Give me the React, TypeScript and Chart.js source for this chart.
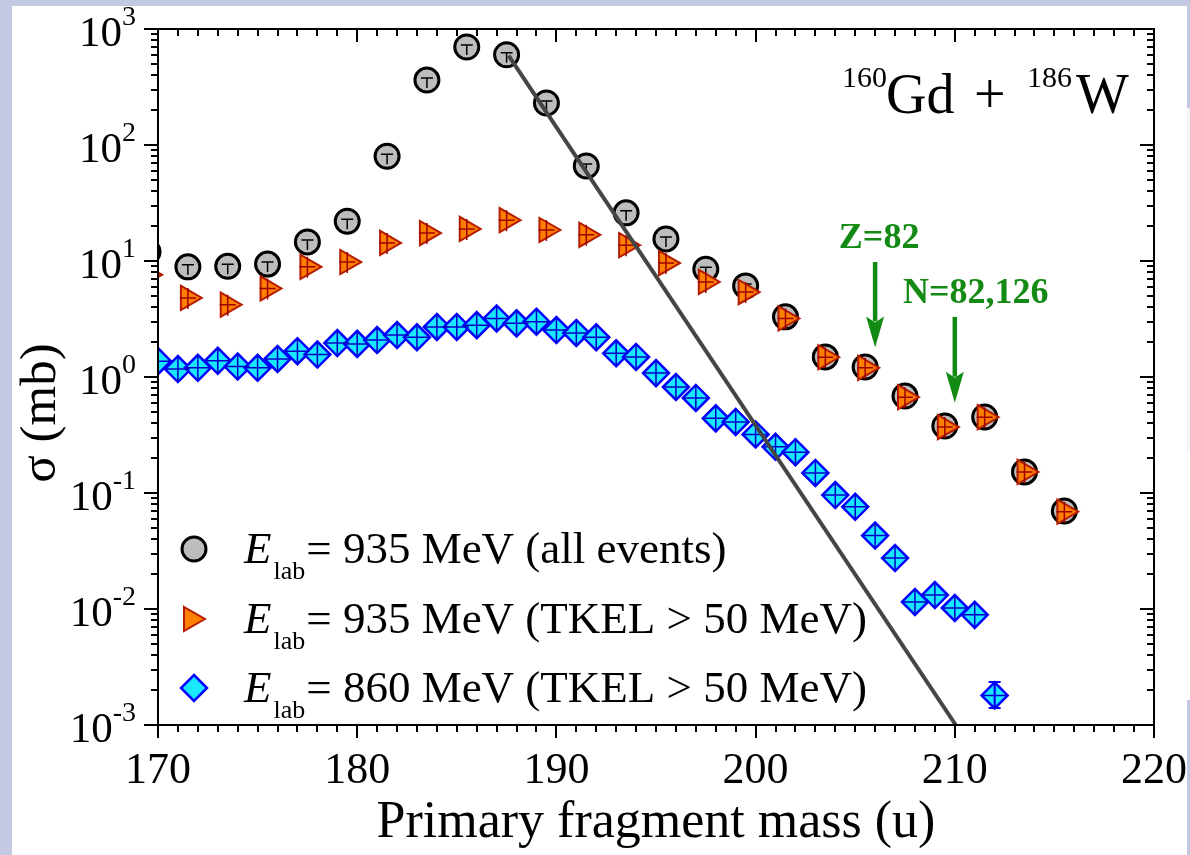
import React, { useEffect, useRef } from 'react';
import { Chart, registerables } from 'chart.js';

Chart.register(...registerables);

// ---- data ----
const massAll = [169.5, 171.5, 173.5, 175.5, 177.5, 179.5, 181.5, 183.5, 185.5, 187.5, 189.5, 191.5, 193.5, 195.5, 197.5, 199.5, 201.5, 203.5, 205.5, 207.5, 209.5, 211.5, 213.5, 215.5];
const sigmaAll = [12, 8.9, 9.0, 9.4, 14.6, 22, 80, 363, 700, 600, 230, 66, 26, 15.5, 8.5, 6.1, 3.3, 1.49, 1.22, 0.685, 0.378, 0.452, 0.152, 0.070];

const massTkel935 = [169.5, 171.5, 173.5, 175.5, 177.5, 179.5, 181.5, 183.5, 185.5, 187.5, 189.5, 191.5, 193.5, 195.5, 197.5, 199.5, 201.5, 203.5, 205.5, 207.5, 209.5, 211.5, 213.5, 215.5];
const sigmaTkel935 = [7.6, 4.8, 4.2, 5.8, 8.9, 9.8, 14.3, 17.4, 18.9, 22.5, 18.5, 16.8, 13.7, 9.6, 6.6, 5.4, 3.2, 1.48, 1.2, 0.67, 0.37, 0.45, 0.152, 0.069];

const massTkel860 = [170, 171, 172, 173, 174, 175, 176, 177, 178, 179, 180, 181, 182, 183, 184, 185, 186, 187, 188, 189, 190, 191, 192, 193, 194, 195, 196, 197, 198, 199, 200, 201, 202, 203, 204, 205, 206, 207, 208, 209, 210, 211, 212];
const sigmaTkel860 = [1.37, 1.17, 1.2, 1.38, 1.23, 1.2, 1.43, 1.67, 1.56, 1.96, 1.93, 2.08, 2.3, 2.2, 2.7, 2.7, 2.8, 3.2, 2.9, 3.0, 2.54, 2.4, 2.2, 1.6, 1.49, 1.08, 0.82, 0.66, 0.44, 0.41, 0.32, 0.25, 0.225, 0.149, 0.096, 0.076, 0.043, 0.0275, 0.0115, 0.0132, 0.0102, 0.0089, 0.0018];

const errMass860 = [212];
const errLow860 = [0.0014];
const errHigh860 = [0.00235];

const fitMass = [187.6, 210.05];
const fitSigma = [590, 0.001];

const xTicks = [170, 180, 190, 200, 210, 220];
const yDecades = [-3, -2, -1, 0, 1, 2, 3];

const legendLabels = ['= 935 MeV (all events)', '= 935 MeV (TKEL > 50 MeV)', '= 860 MeV (TKEL > 50 MeV)'];

const arrowMass = [206, 210];
const arrowTop = [9.8, 3.3];
const arrowTip = [1.8, 0.6];
const arrowLabels = ['Z=82', 'N=82,126'];
const arrowLabelShift = [4, 21];

const SERIF = '"Liberation Serif", "Times New Roman", serif';
const GREEN = '#138a13';

const GRAY_FILL = '#bdbdbd';
const ORANGE_FILL = '#ff8000';
const ORANGE_EDGE = '#b41c00';
const CYAN_FILL = '#1ae6ff';
const BLUE_EDGE = '#0000ff';

function pathMarker(ctx: CanvasRenderingContext2D, style: string, x: number, y: number, r: number) {
  ctx.beginPath();
  if (style === 'circle') {
    ctx.arc(x, y, r, 0, Math.PI * 2);
  } else if (style === 'triRight') {
    let rad = Math.PI / 2;
    for (let k = 0; k < 3; k++) {
      const px = x + Math.sin(rad) * r;
      const py = y - Math.cos(rad) * r;
      if (k === 0) ctx.moveTo(px, py); else ctx.lineTo(px, py);
      rad += (2 * Math.PI) / 3;
    }
  } else {
    ctx.moveTo(x, y - r);
    ctx.lineTo(x + r, y);
    ctx.lineTo(x, y + r);
    ctx.lineTo(x - r, y);
  }
  ctx.closePath();
}

const decor = {
  id: 'decor',
  afterDatasetDraw(chart: any, args: any) {
    const ds: any = chart.data.datasets[args.index];
    const mark = ds.innerMark;
    if (!mark) return;
    const ctx: CanvasRenderingContext2D = chart.ctx;
    const a = chart.chartArea;
    ctx.save();
    ctx.beginPath();
    ctx.rect(a.left, a.top, a.right - a.left, a.bottom - a.top);
    ctx.clip();
    ctx.strokeStyle = mark.color;
    ctx.lineWidth = mark.width;
    args.meta.data.forEach((pt: any) => {
      const x = pt.x + mark.dx;
      const y = pt.y + mark.dy;
      ctx.beginPath();
      ctx.moveTo(x - mark.h, y);
      ctx.lineTo(x + mark.h, y);
      ctx.moveTo(x, y - mark.up);
      ctx.lineTo(x, y + mark.down);
      ctx.stroke();
    });
    if (ds.errBars) {
      const xs = chart.scales.x;
      const ys = chart.scales.y;
      ctx.lineWidth = 2;
      ctx.strokeStyle = BLUE_EDGE;
      errMass860.forEach((m, i) => {
        const px = xs.getPixelForValue(m);
        const y1 = ys.getPixelForValue(errLow860[i]);
        const y2 = ys.getPixelForValue(errHigh860[i]);
        ctx.beginPath();
        ctx.moveTo(px, y1); ctx.lineTo(px, y2);
        ctx.moveTo(px - 6, y1); ctx.lineTo(px + 6, y1);
        ctx.moveTo(px - 6, y2); ctx.lineTo(px + 6, y2);
        ctx.stroke();
      });
    }
    ctx.restore();
  },
  afterDraw(chart: any) {
    const ctx: CanvasRenderingContext2D = chart.ctx;
    const a = chart.chartArea;
    const xs = chart.scales.x;
    const ys = chart.scales.y;
    ctx.save();
    ctx.strokeStyle = '#000';
    ctx.fillStyle = '#000';

    // frame
    ctx.lineWidth = 2;
    ctx.strokeRect(a.left, a.top, a.right - a.left, a.bottom - a.top);

    // x ticks (bottom outward, top inward)
    ctx.lineWidth = 2;
    ctx.beginPath();
    for (let m = xs.min; m <= xs.max; m += 1) {
      const px = Math.round(xs.getPixelForValue(m));
      const len = m % 10 === 0 ? 13 : 7;
      ctx.moveTo(px, a.bottom);
      ctx.lineTo(px, a.bottom + len);
      ctx.moveTo(px, a.top);
      ctx.lineTo(px, a.top + len);
    }
    // y ticks (left outward, right inward)
    yDecades.forEach((e) => {
      for (let k = 1; k <= 9; k++) {
        if (e === 3 && k > 1) break;
        const py = Math.round(ys.getPixelForValue(k * Math.pow(10, e)));
        const len = k === 1 ? 14 : 7;
        ctx.moveTo(a.left - len, py);
        ctx.lineTo(a.left, py);
        ctx.moveTo(a.right - len, py);
        ctx.lineTo(a.right, py);
      }
    });
    ctx.stroke();

    // x tick labels
    ctx.font = `44px ${SERIF}`;
    ctx.textAlign = 'center';
    ctx.textBaseline = 'alphabetic';
    xTicks.forEach((t) => {
      ctx.fillText(String(t), xs.getPixelForValue(t), 783);
    });

    // y tick labels 10^n
    yDecades.forEach((e) => {
      const py = ys.getPixelForValue(Math.pow(10, e));
      const expStr = e < 0 ? '-' + Math.abs(e) : String(e);
      ctx.font = `28px ${SERIF}`;
      ctx.textAlign = 'right';
      const ew = ctx.measureText(expStr).width;
      ctx.fillText(expStr, 136, py - 4);
      ctx.font = `43px ${SERIF}`;
      ctx.fillText('10', 136 - ew, py + 17);
    });

    // axis titles
    ctx.font = `52px ${SERIF}`;
    ctx.textAlign = 'center';
    ctx.fillText('Primary fragment mass (u)', 656, 837);
    ctx.save();
    ctx.translate(55, 413);
    ctx.rotate(-Math.PI / 2);
    ctx.font = `51px ${SERIF}`;
    ctx.fillText('σ (mb)', 0, 0);
    ctx.restore();

    // reaction label
    ctx.textAlign = 'left';
    ctx.font = `30px ${SERIF}`;
    ctx.fillText('160', 842, 87);
    ctx.font = `56px ${SERIF}`;
    ctx.fillText('Gd', 886, 113);
    ctx.fillText('+', 974, 113);
    ctx.font = `30px ${SERIF}`;
    ctx.fillText('186', 1027, 87);
    ctx.font = `56px ${SERIF}`;
    ctx.fillText('W', 1076, 113);

    // legend
    const rows = [563, 633, 702];
    const styles = [
      { s: 'circle', r: 12, fill: GRAY_FILL, edge: '#000', lw: 3 },
      { s: 'triRight', r: 14, fill: ORANGE_FILL, edge: ORANGE_EDGE, lw: 2 },
      { s: 'diamond', r: 13, fill: CYAN_FILL, edge: BLUE_EDGE, lw: 2.5 },
    ];
    rows.forEach((by, i) => {
      const st = styles[i];
      pathMarker(ctx, st.s, st.s === 'triRight' ? 191 : 194, by - 14, st.r);
      ctx.fillStyle = st.fill;
      ctx.fill();
      ctx.lineWidth = st.lw;
      ctx.strokeStyle = st.edge;
      ctx.stroke();
      ctx.fillStyle = '#000';
      ctx.textAlign = 'left';
      ctx.font = `italic 45px ${SERIF}`;
      let x = 244;
      ctx.fillText('E', x, by);
      x += ctx.measureText('E').width + 2;
      ctx.font = `26px ${SERIF}`;
      ctx.fillText('lab', x, by + 16);
      x += ctx.measureText('lab').width + 1;
      ctx.font = `45px ${SERIF}`;
      ctx.fillText(legendLabels[i], x, by);
    });

    // shell annotations
    ctx.fillStyle = GREEN;
    ctx.strokeStyle = GREEN;
    arrowMass.forEach((m, i) => {
      const px = xs.getPixelForValue(m);
      const top = ys.getPixelForValue(arrowTop[i]);
      const tip = ys.getPixelForValue(arrowTip[i]);
      ctx.lineWidth = 4.5;
      ctx.beginPath();
      ctx.moveTo(px, top);
      ctx.lineTo(px, tip - 26);
      ctx.stroke();
      ctx.beginPath();
      ctx.moveTo(px, tip);
      ctx.lineTo(px - 9, tip - 31);
      ctx.lineTo(px, tip - 25);
      ctx.lineTo(px + 9, tip - 31);
      ctx.closePath();
      ctx.fill();
      ctx.font = `bold 36px ${SERIF}`;
      ctx.textAlign = 'center';
      ctx.fillText(arrowLabels[i], px + arrowLabelShift[i], top - 14);
    });
    ctx.restore();
  },
};

export default function App() {
  const ref = useRef<HTMLCanvasElement>(null);
  useEffect(() => {
    const canvas = ref.current;
    if (!canvas) return;
    const chart = new Chart(canvas, {
      type: 'scatter',
      data: {
        datasets: [
          {
            label: 'fit',
            data: fitMass.map((x, i) => ({ x, y: fitSigma[i] })),
            showLine: true,
            borderColor: '#454545',
            borderWidth: 4,
            pointRadius: 0,
            clip: 0,
            order: 0,
          } as any,
          {
            label: 'E_lab = 860 MeV (TKEL > 50 MeV)',
            data: massTkel860.map((x, i) => ({ x, y: sigmaTkel860[i] })),
            showLine: false,
            pointStyle: 'rectRot',
            pointRadius: 13,
            pointBackgroundColor: CYAN_FILL,
            pointBorderColor: BLUE_EDGE,
            pointBorderWidth: 2.5,
            clip: 0,
            order: 1,
            innerMark: { color: '#0000c8', width: 1.5, dx: 0, dy: 0, h: 12, up: 12, down: 12 },
            errBars: true,
          } as any,
          {
            label: 'E_lab = 935 MeV (TKEL > 50 MeV)',
            data: massTkel935.map((x, i) => ({ x, y: sigmaTkel935[i] })),
            showLine: false,
            pointStyle: 'triangle',
            rotation: 90,
            pointRadius: 14,
            pointBackgroundColor: ORANGE_FILL,
            pointBorderColor: ORANGE_EDGE,
            pointBorderWidth: 2,
            clip: 0,
            order: 2,
            innerMark: { color: '#a00000', width: 1.5, dx: 0, dy: 0, h: 8, up: 10, down: 11 },
          } as any,
          {
            label: 'E_lab = 935 MeV (all events)',
            data: massAll.map((x, i) => ({ x, y: sigmaAll[i] })),
            showLine: false,
            pointStyle: 'circle',
            pointRadius: 12,
            pointBackgroundColor: GRAY_FILL,
            pointBorderColor: '#000',
            pointBorderWidth: 3,
            clip: 0,
            order: 3,
            innerMark: { color: '#000', width: 1.5, dx: 0, dy: -2, h: 6, up: 0, down: 10 },
          } as any,
        ],
      },
      options: {
        responsive: false,
        animation: false,
        events: [],
        layout: { padding: { left: 158, right: 36, top: 29, bottom: 130 } },
        scales: {
          x: { type: 'linear', min: 170, max: 220, display: false },
          y: { type: 'logarithmic', min: 0.001, max: 1000, display: false },
        },
        plugins: { legend: { display: false }, tooltip: { enabled: false } },
      },
      plugins: [decor],
    });
    return () => chart.destroy();
  }, []);

  return (
    <div style={{ position: 'fixed', left: 0, top: 0, width: 1190, height: 855, background: '#c3c8e3', overflow: 'hidden' }}>
      <div style={{ position: 'absolute', left: 12, top: 6, width: 1175, height: 849, background: '#ffffff' }} />
      <div style={{ position: 'absolute', left: 1187, top: 108, width: 3, height: 344, background: '#f3f3f6' }} />
      <div style={{ position: 'absolute', left: 1187, top: 452, width: 3, height: 248, background: '#ffffff' }} />
      <canvas ref={ref} width={1190} height={855} style={{ position: 'absolute', left: 0, top: 0 }} />
    </div>
  );
}
